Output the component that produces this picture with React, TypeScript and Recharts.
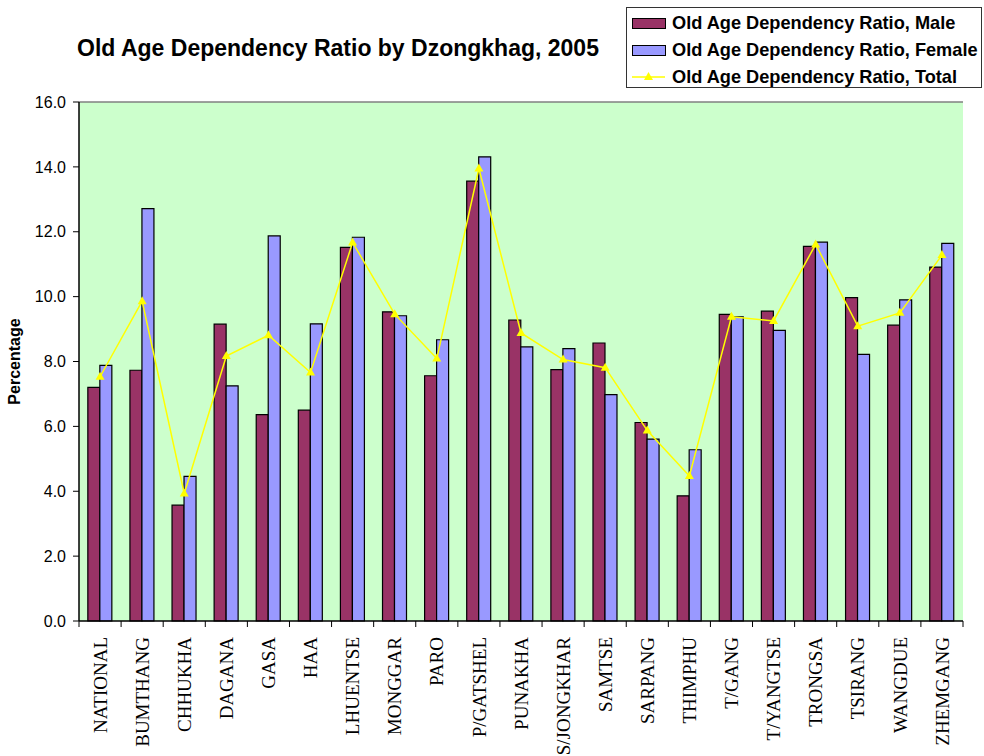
import { ComposedChart, Bar, Line, XAxis, YAxis, CartesianGrid, ReferenceLine, Label } from "recharts"

const districts = [
  "NATIONAL", "BUMTHANG", "CHHUKHA", "DAGANA", "GASA", "HAA", "LHUENTSE", "MONGGAR", "PARO", "P/GATSHEL", "PUNAKHA",
  "S/JONGKHAR", "SAMTSE", "SARPANG", "THIMPHU", "T/GANG", "T/YANGTSE", "TRONGSA", "TSIRANG", "WANGDUE", "ZHEMGANG",
]
const maleRatio = [7.2, 7.73, 3.57, 9.15, 6.36, 6.5, 11.52, 9.53, 7.56, 13.56, 9.28, 7.75, 8.57, 6.12, 3.86, 9.45, 9.55, 11.55, 9.97, 9.12, 10.91]
const femaleRatio = [7.88, 12.71, 4.46, 7.25, 11.87, 9.16, 11.83, 9.41, 8.67, 14.31, 8.45, 8.4, 6.98, 5.61, 5.28, 9.38, 8.96, 11.68, 8.22, 9.9, 11.64]
const totalRatio = [7.53, 9.86, 3.93, 8.17, 8.81, 7.66, 11.67, 9.46, 8.09, 13.95, 8.88, 8.06, 7.81, 5.87, 4.47, 9.38, 9.25, 11.61, 9.09, 9.5, 11.28]
const yTicks = [0, 2, 4, 6, 8, 10, 12, 14, 16]

const seriesNames = {
  male: "Old Age Dependency Ratio, Male",
  female: "Old Age Dependency Ratio, Female",
  total: "Old Age Dependency Ratio, Total",
}

const data = districts.map((name, i) => ({
  name,
  male: maleRatio[i],
  female: femaleRatio[i],
  total: totalRatio[i],
}))

const PLOT_LEFT = 79
const PLOT_RIGHT = 963
const BAND = (PLOT_RIGHT - PLOT_LEFT) / districts.length
const sans = "'Liberation Sans', Arial, sans-serif"

const DistrictTick = ({ x, y, payload, index }: any) => {
  return (
    <g>
      <line x1={x - BAND / 2} x2={x - BAND / 2} y1={y} y2={y + 6} stroke="#000" />
      {index === districts.length - 1 && <line x1={x + BAND / 2} x2={x + BAND / 2} y1={y} y2={y + 6} stroke="#000" />}
      <text
        transform={`translate(${x},${y + 16}) rotate(-90)`}
        textAnchor="end"
        dy="0.35em"
        fontFamily="'Liberation Serif', 'Times New Roman', serif"
        fontSize={19}
        fill="#000"
      >
        {payload.value}
      </text>
    </g>
  )
}

const Triangle = ({ cx, cy }: any) => {
  if (cx == null || cy == null) return null
  return <path d={`M${cx},${cy - 5} L${cx + 4.5},${cy + 3} L${cx - 4.5},${cy + 3} Z`} fill="#FFFF00" />
}

const LegendBox = () => {
  const rows = [
    { key: "male", label: seriesNames.male },
    { key: "female", label: seriesNames.female },
    { key: "total", label: seriesNames.total },
  ]
  return (
    <div
      style={{
        position: "absolute",
        left: 626,
        top: 7,
        width: 356,
        height: 81,
        border: "1px solid #333",
        background: "#fff",
        boxSizing: "border-box",
      }}
    >
      {rows.map((r, i) => (
        <div key={r.key} style={{ position: "absolute", left: 0, top: i * 27, height: 30, display: "flex", alignItems: "center" }}>
          <svg width={45} height={30} style={{ display: "block" }}>
            {r.key === "total" ? (
              <g>
                <line x1={5} x2={38} y1={15} y2={15} stroke="#FFFF00" strokeWidth={1.5} />
                <path d="M21.5,10 L26,18 L17,18 Z" fill="#FFFF00" />
              </g>
            ) : (
              <rect x={5.5} y={10.5} width={33} height={10} fill={r.key === "male" ? "#993366" : "#9999FF"} stroke="#000" />
            )}
          </svg>
          <span style={{ fontFamily: sans, fontWeight: "bold", fontSize: 18.2, color: "#000", whiteSpace: "nowrap" }}>{r.label}</span>
        </div>
      ))}
    </div>
  )
}

export default function App() {
  return (
    <div style={{ position: "absolute", left: 0, top: 0, width: 984, height: 756, background: "#fff", overflow: "hidden" }}>
      <div
        style={{
          position: "absolute",
          left: 38,
          top: 35,
          width: 600,
          textAlign: "center",
          fontFamily: sans,
          fontWeight: "bold",
          fontSize: 23,
          color: "#000",
        }}
      >
        Old Age Dependency Ratio by Dzongkhag, 2005
      </div>
      <ComposedChart
        width={984}
        height={756}
        data={data}
        margin={{ top: 102, right: 984 - PLOT_RIGHT, bottom: 0, left: 0 }}
        barCategoryGap="21%"
        barGap={0}
        style={{ position: "absolute", left: 0, top: 0 }}
      >
        <CartesianGrid horizontal={false} vertical={false} fill="#CCFFCC" />
        <XAxis
          dataKey="name"
          height={135}
          interval={0}
          tickLine={false}
          tickSize={0}
          tickMargin={0}
          axisLine={{ stroke: "#000", strokeWidth: 1.5 }}
          tick={<DistrictTick />}
        />
        <YAxis
          width={PLOT_LEFT}
          domain={[0, 16]}
          ticks={yTicks}
          tickFormatter={(v) => v.toFixed(1)}
          tickSize={6}
          tickMargin={7}
          axisLine={{ stroke: "#000", strokeWidth: 1.5 }}
          tickLine={{ stroke: "#000" }}
          tick={{ fill: "#000", fontSize: 16, fontFamily: sans }}
        >
          <Label
            value="Percentage"
            angle={-90}
            position="insideLeft"
            offset={14}
            style={{ textAnchor: "middle", fontWeight: "bold", fontSize: 16, fontFamily: sans, fill: "#000" }}
          />
        </YAxis>
        <YAxis
          yAxisId="right"
          orientation="right"
          width={0}
          domain={[0, 16]}
          tick={false}
          tickLine={false}
          axisLine={{ stroke: "#808080", strokeWidth: 1.5 }}
        />
        <ReferenceLine y={16} stroke="#808080" strokeWidth={1.5} />
        <Bar dataKey="male" name={seriesNames.male} fill="#993366" stroke="#000" strokeWidth={1.2} isAnimationActive={false} />
        <Bar dataKey="female" name={seriesNames.female} fill="#9999FF" stroke="#000" strokeWidth={1.2} isAnimationActive={false} />
        <Line
          type="linear"
          dataKey="total"
          name={seriesNames.total}
          stroke="#FFFF00"
          strokeWidth={1.5}
          dot={<Triangle />}
          activeDot={false}
          isAnimationActive={false}
        />
      </ComposedChart>
      <LegendBox />
    </div>
  )
}
